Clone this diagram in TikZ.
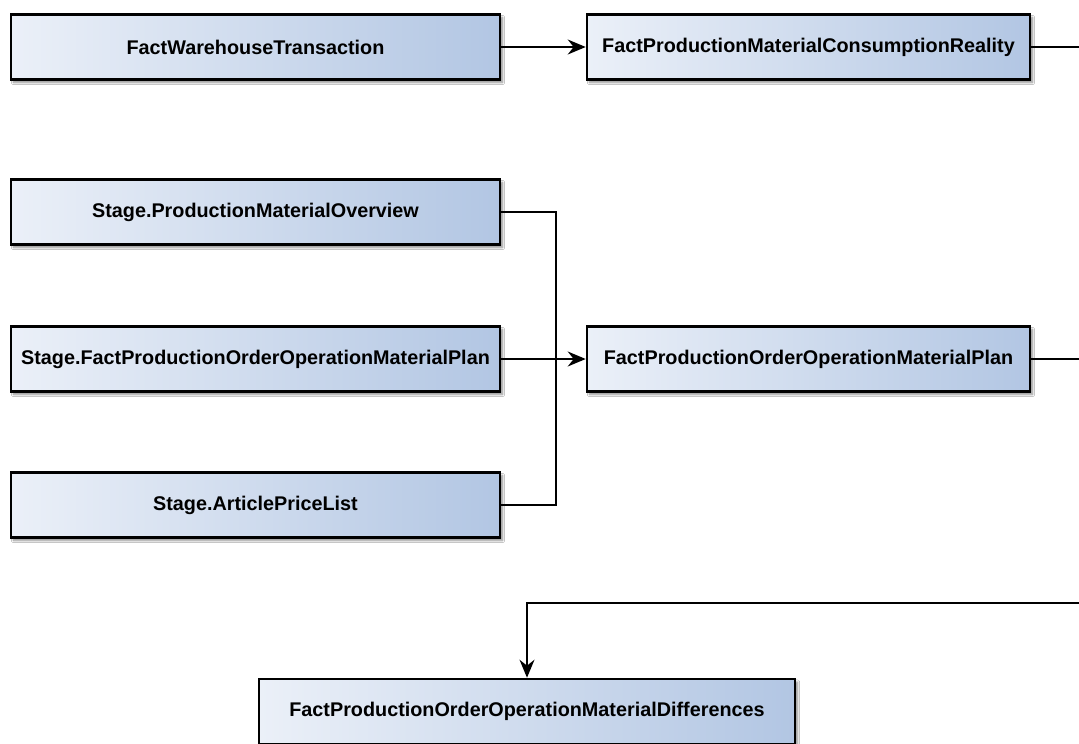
\documentclass[tikz,border=0pt]{standalone}
\usepackage{fontspec}
\setmainfont{Liberation Sans}
\usetikzlibrary{arrows.meta,shadows.blur}
\definecolor{boxleft}{HTML}{EBF0F8}
\definecolor{boxright}{HTML}{B2C6E3}
\tikzset{
  table/.style={draw=black, line width=2.6pt, left color=boxleft, right color=boxright,
    minimum height=65pt, inner sep=0pt,
    font=\fontsize{19.8}{22}\selectfont\bfseries,
    blur shadow={shadow xshift=2.5pt, shadow yshift=-3pt, shadow blur steps=6, shadow opacity=45}},
  wide/.style={table, minimum width=489pt},
  mid/.style={table, minimum width=443pt},
  big/.style={table, minimum width=536pt},
  flow/.style={line width=1.4pt, draw=black},
  tip/.style={flow, -{Stealth[length=18pt, width=15pt, inset=6pt]}}
}
\begin{document}
\begin{tikzpicture}[x=1pt, y=-1pt]
  \useasboundingbox (0,0) rectangle (1079,744);
  \fill[white] (0,0) rectangle (1079,744);

  % source tables
  \node[wide] (fwt)  at (255.5,47)  {FactWarehouseTransaction};
  \node[wide] (spmo) at (255.5,212) {Stage.ProductionMaterialOverview};
  \node[wide] (sfp)  at (255.5,359) {Stage.FactProductionOrderOperationMaterialPlan};
  \node[wide] (sapl) at (255.5,505) {Stage.ArticlePriceList};

  % fact tables
  \node[mid] (fpmcr) at (808.5,47)  {FactProductionMaterialConsumptionReality};
  \node[mid] (fpoomp) at (808.5,359) {FactProductionOrderOperationMaterialPlan};
  \node[big] (fpoomd) at (527,711.5) {FactProductionOrderOperationMaterialDifferences};

  % exits towards the right margin and the return line
  \coordinate (exitA) at (1079,47);
  \coordinate (exitB) at (1079,359);
  \coordinate (back) at (1079,603);
  \coordinate (busTop) at (556,212);
  \coordinate (busBot) at (556,505);

  \draw[tip] (fwt.east) -- (fpmcr.west);
  \draw[flow] (fpmcr.east) -- (exitA);

  \draw[flow] (spmo.east) -- (busTop) -- (busBot) -- (sapl.east);
  \draw[tip] (sfp.east) -- (fpoomp.west);
  \draw[flow] (fpoomp.east) -- (exitB);

  \draw[tip] (back) -| (fpoomd.north);
\end{tikzpicture}
\end{document}
